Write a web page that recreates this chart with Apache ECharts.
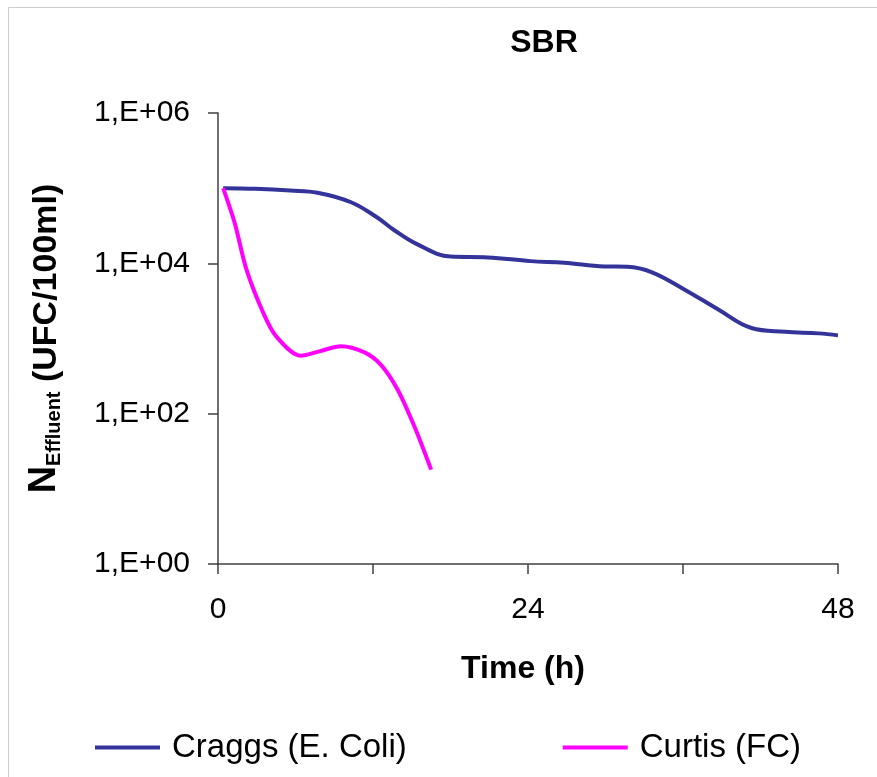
<!DOCTYPE html>
<html>
<head>
<meta charset="utf-8">
<script src="https://cdn.jsdelivr.net/npm/echarts@6/dist/echarts.min.js"></script>
<style>
html,body{margin:0;padding:0;background:#fff;}
#main{width:877px;height:777px;}
</style>
</head>
<body>
<div id="main"></div>
<script>
// Time (h)
var craggsTime = [0.4, 2.9, 5.6, 7.7, 10.3, 12.3, 13.6, 15.4, 18.0, 20.9, 24.2, 26.8, 29.9, 31.7, 33.6, 36.1, 38.7, 41.3, 43.9, 46.5, 48.0];
// N effluent (UFC/100ml)
var craggsValues = [100000, 98000, 93000, 87000, 65000, 41000, 28000, 18000, 12300, 12000, 10700, 10200, 9100, 9000, 7600, 4500, 2450, 1380, 1230, 1170, 1100];

var curtisTime = [0.4, 1.3, 2.2, 3.5, 4.5, 6.4, 7.9, 9.5, 11.3, 12.6, 13.9, 15.2, 16.5];
var curtisValues = [100000, 34000, 8300, 2200, 1070, 590, 680, 790, 660, 450, 210, 68, 18];

var xTickLabels = [0, 24, 48];
var yTickLabels = ['1,E+00', '1,E+02', '1,E+04', '1,E+06'];

var seriesNames = ['Craggs (E. Coli)', 'Curtis (FC)'];

function pairs(xs, ys) {
  var out = [];
  for (var i = 0; i < xs.length; i++) out.push([xs[i], ys[i]]);
  return out;
}

var chart = echarts.init(document.getElementById('main'));
var font = '"Liberation Sans", Arial, sans-serif';
var axisColor = '#404040';

chart.setOption({
  backgroundColor: '#ffffff',
  animation: false,
  textStyle: { fontFamily: font },
  graphic: [{
    type: 'rect',
    shape: { x: 8.5, y: 7.5, width: 1000, height: 1000 },
    style: { fill: 'none', stroke: '#cccccc', lineWidth: 1 },
    silent: true
  }],
  title: {
    text: 'SBR',
    left: 539,
    textAlign: 'center',
    top: 22,
    textStyle: { fontFamily: font, fontSize: 32, fontWeight: 'bold', color: '#000' }
  },
  legend: {
    data: seriesNames,
    left: 90,
    top: 726,
    icon: 'rect',
    itemWidth: 65,
    itemHeight: 4,
    itemGap: 156,
    textStyle: { fontFamily: font, fontSize: 33, color: '#000', padding: [0, 0, 0, 7] }
  },
  grid: { left: 218, right: 39, top: 113, bottom: 213, containLabel: false },
  xAxis: {
    type: 'value',
    min: 0,
    max: 48,
    interval: 12,
    name: 'Time (h)',
    nameLocation: 'middle',
    nameGap: 89,
    nameTextStyle: { fontFamily: font, fontSize: 32, fontWeight: 'bold', color: '#000', padding: [0, 10, 0, 0] },
    axisLine: { show: true, lineStyle: { color: axisColor, width: 1.5 } },
    axisTick: { show: true, length: 10, lineStyle: { color: axisColor, width: 1.5 } },
    splitLine: { show: false },
    axisLabel: {
      margin: 31,
      fontFamily: font,
      fontSize: 30,
      color: '#000',
      formatter: function (v) { return xTickLabels.indexOf(v) >= 0 ? String(v) : ''; }
    }
  },
  yAxis: {
    type: 'log',
    logBase: 100,
    min: 1,
    max: 1000000,
    name: '{n|N}{s|Effluent}{r| (UFC/100ml)}',
    nameLocation: 'middle',
    nameGap: 154,
    nameTextStyle: {
      fontFamily: font,
      fontWeight: 'bold',
      color: '#000',
      rich: {
        n: { fontFamily: font, fontWeight: 'bold', fontSize: 38, color: '#000', verticalAlign: 'bottom', lineHeight: 42 },
        s: { fontFamily: font, fontWeight: 'bold', fontSize: 20, color: '#000', verticalAlign: 'bottom', lineHeight: 36 },
        r: { fontFamily: font, fontWeight: 'bold', fontSize: 34, color: '#000', verticalAlign: 'bottom', lineHeight: 42 }
      }
    },
    axisLine: { show: true, lineStyle: { color: axisColor, width: 1.5 } },
    axisTick: { show: true, length: 10, lineStyle: { color: axisColor, width: 1.5 } },
    splitLine: { show: false },
    axisLabel: {
      margin: 28,
      fontFamily: font,
      fontSize: 30,
      color: '#000',
      formatter: function (v) {
        var e = Math.round(Math.log10(v));
        return yTickLabels[e / 2] || '';
      }
    }
  },
  series: [{
    name: seriesNames[0],
    type: 'line',
    data: pairs(craggsTime, craggsValues),
    smooth: 0.4,
    showSymbol: false,
    symbol: 'none',
    lineStyle: { color: '#333399', width: 4 },
    itemStyle: { color: '#333399' }
  }, {
    name: seriesNames[1],
    type: 'line',
    data: pairs(curtisTime, curtisValues),
    smooth: 0.3,
    showSymbol: false,
    symbol: 'none',
    lineStyle: { color: '#ff00ff', width: 4 },
    itemStyle: { color: '#ff00ff' }
  }]
});
</script>
</body>
</html>
